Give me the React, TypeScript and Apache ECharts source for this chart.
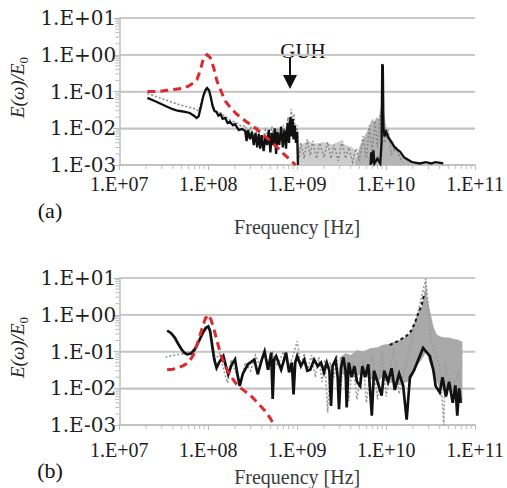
import React, { useEffect, useRef } from 'react';
import * as echarts from 'echarts';

// ---------- Panel (a) ----------
const redA: number[][] = [
  [2.07e7, 0.1], [2.8e7, 0.1], [3.5e7, 0.108], [4.3e7, 0.115], [5.1e7, 0.122], [6e7, 0.14], [6.8e7, 0.17],
  [7.5e7, 0.215], [8.2e7, 0.4], [8.9e7, 0.85], [9.7e7, 1.0], [1.05e8, 0.85], [1.15e8, 0.45], [1.25e8, 0.2],
  [1.4e8, 0.1], [1.55e8, 0.055], [1.8e8, 0.035], [2.1e8, 0.024], [2.6e8, 0.016], [3e8, 0.0125], [3.6e8, 0.009],
  [4.3e8, 0.0062], [5.1e8, 0.0043], [6e8, 0.003], [6.9e8, 0.0021], [8.3e8, 0.0014], [9.6e8, 0.001],
];

// '-' breaks the trace where the black curve sits below the visible range
const blackA: (number | string)[][] = [
  [2.07e7, 0.067], [2.5e7, 0.055], [3e7, 0.045], [3.5e7, 0.038], [4e7, 0.033], [4.5e7, 0.03], [5e7, 0.029],
  [5.5e7, 0.028], [6.2e7, 0.026], [6.9e7, 0.022], [7.4e7, 0.019], [7.8e7, 0.021], [8.3e7, 0.04], [8.8e7, 0.075],
  [9.3e7, 0.11], [9.7e7, 0.125], [1.02e8, 0.11], [1.07e8, 0.07], [1.12e8, 0.04], [1.17e8, 0.03], [1.25e8, 0.027],
  [1.3e8, 0.022], [1.38e8, 0.024], [1.45e8, 0.018], [1.55e8, 0.019], [1.65e8, 0.014], [1.75e8, 0.015], [1.9e8, 0.012],
  [2e8, 0.013], [2.2e8, 0.009], [2.4e8, 0.0095], [2.6e8, 0.0085], [2.7e8, 0.0045], [2.8e8, 0.009], [2.95e8, 0.005],
  [3.1e8, 0.008], [3.25e8, 0.0035], [3.4e8, 0.0075], [3.55e8, 0.003], [3.7e8, 0.007], [3.85e8, 0.0028], [4e8, 0.0065],
  [4.2e8, 0.0024], [4.4e8, 0.006], [4.6e8, 0.0035], [4.8e8, 0.009], [5e8, 0.0022], [5.2e8, 0.0075], [5.4e8, 0.0035],
  [5.6e8, 0.01], [5.8e8, 0.002], [6e8, 0.008], [6.3e8, 0.0035], [6.6e8, 0.011], [6.9e8, 0.003], [7.2e8, 0.009],
  [7.5e8, 0.0028], [7.8e8, 0.014], [8.1e8, 0.004], [8.4e8, 0.02], [8.7e8, 0.006], [8.9e8, 0.018], [9.1e8, 0.005],
  [9.4e8, 0.012], [9.7e8, 0.004], [1e9, 0.008], [1.02e9, 0.001], [1.03e9, '-'],
  [6.7e9, 0.001], [6.8e9, 0.0022], [7e9, 0.0011], [7.2e9, 0.0025], [7.4e9, 0.0011], [8e9, 0.0015],
  [8.6e9, 0.0011], [8.9e9, 0.004], [9.05e9, 0.55], [9.2e9, 0.5], [9.35e9, 0.01], [9.6e9, 0.006], [1e10, 0.008],
  [1.07e10, 0.0054], [1.15e10, 0.0042], [1.25e10, 0.003], [1.44e10, 0.0023], [1.6e10, 0.0016], [1.95e10, 0.0012],
  [2.4e10, 0.0011], [2.8e10, 0.0012], [3.2e10, 0.0011], [3.6e10, 0.0012], [4.4e10, 0.0011],
];

const greyA: number[][] = [
  [2.07e7, 0.088], [2.5e7, 0.075], [3e7, 0.065], [4e7, 0.05], [5e7, 0.042], [6e7, 0.038], [7e7, 0.034],
  [7.8e7, 0.03], [8.5e7, 0.06], [9.5e7, 0.11], [1.02e8, 0.1], [1.1e8, 0.05], [1.2e8, 0.03], [1.4e8, 0.025],
  [1.6e8, 0.02], [1.8e8, 0.016], [2e8, 0.015], [2.4e8, 0.011], [2.6e8, 0.012], [2.8e8, 0.006], [3e8, 0.011],
  [3.3e8, 0.005], [3.6e8, 0.01], [4e8, 0.004], [4.4e8, 0.009], [4.8e8, 0.005], [5.2e8, 0.011], [5.6e8, 0.004],
  [6e8, 0.01], [6.5e8, 0.005], [7e8, 0.012], [7.5e8, 0.006], [7.9e8, 0.02], [8.3e8, 0.008], [8.6e8, 0.033],
  [8.9e8, 0.01], [9.2e8, 0.025], [9.6e8, 0.006], [1e9, 0.012], [1.05e9, 0.0015], [1.1e9, 0.004], [1.2e9, 0.0015],
  [1.3e9, 0.005], [1.4e9, 0.0018], [1.5e9, 0.0045], [1.65e9, 0.0015], [1.8e9, 0.004], [2e9, 0.0016],
  [2.2e9, 0.0042], [2.4e9, 0.0015], [2.6e9, 0.0035], [2.9e9, 0.0013], [3.2e9, 0.0045], [3.5e9, 0.0015],
  [3.8e9, 0.003], [4.2e9, 0.0012], [4.6e9, 0.0028], [5e9, 0.0013], [5.5e9, 0.006], [6e9, 0.0015], [6.5e9, 0.012],
  [7e9, 0.002], [7.5e9, 0.016], [8e9, 0.003], [8.5e9, 0.02], [9e9, 0.03], [9.6e9, 0.004], [1.05e10, 0.009],
  [1.15e10, 0.002], [1.3e10, 0.003], [1.5e10, 0.0012],
];

const bandLightAFreq = [1e9, 1.3e9, 1.6e9, 2e9, 2.5e9, 3e9, 3.5e9, 4e9, 4.6e9];
const bandLightALow = [0.001, 0.001, 0.001, 0.001, 0.001, 0.001, 0.001, 0.001, 0.001];
const bandLightAHigh = [0.003, 0.0045, 0.0038, 0.0042, 0.0036, 0.0045, 0.0035, 0.0032, 0.0025];

const bandAFreq = [4.5e9, 5e9, 5.6e9, 6.2e9, 6.6e9, 7e9, 7.4e9, 7.8e9, 8.3e9, 8.7e9, 9.07e9, 9.4e9, 9.8e9, 1.03e10, 1.1e10, 1.2e10, 1.3e10, 1.45e10, 1.7e10, 2e10];
const bandALow = [0.001, 0.001, 0.001, 0.001, 0.001, 0.001, 0.001, 0.001, 0.001, 0.001, 0.001, 0.001, 0.001, 0.001, 0.001, 0.001, 0.001, 0.001, 0.001, 0.001];
const bandAHigh = [0.0012, 0.003, 0.0055, 0.0085, 0.013, 0.018, 0.015, 0.02, 0.018, 0.035, 0.06, 0.03, 0.014, 0.009, 0.006, 0.0042, 0.0028, 0.002, 0.0014, 0.001];

// ---------- Panel (b) ----------
const redB: number[][] = [
  [3.45e7, 0.032], [4e7, 0.033], [4.6e7, 0.036], [5.3e7, 0.042], [6e7, 0.05], [6.8e7, 0.08], [7.8e7, 0.21],
  [8.6e7, 0.45], [9.3e7, 0.8], [1e8, 1.0], [1.07e8, 0.75], [1.15e8, 0.44], [1.25e8, 0.2], [1.4e8, 0.074],
  [1.6e8, 0.035], [1.8e8, 0.021], [2.05e8, 0.0135], [2.25e8, 0.0107], [2.6e8, 0.0082], [3.1e8, 0.0058],
  [3.6e8, 0.004], [4.3e8, 0.0025], [5e8, 0.0015], [5.5e8, 0.001],
];

const blackB: number[][] = [
  [3.45e7, 0.37], [3.8e7, 0.32], [4.2e7, 0.24], [4.6e7, 0.16], [5e7, 0.115], [5.4e7, 0.092], [5.8e7, 0.084],
  [6.4e7, 0.088], [7e7, 0.11], [7.6e7, 0.16], [8.2e7, 0.24], [8.8e7, 0.34], [9.4e7, 0.44], [1e8, 0.48],
  [1.05e8, 0.36], [1.1e8, 0.16], [1.17e8, 0.06], [1.24e8, 0.036], [1.32e8, 0.05], [1.48e8, 0.075], [1.58e8, 0.04],
  [1.68e8, 0.024], [1.84e8, 0.045], [2e8, 0.061], [2.12e8, 0.025], [2.26e8, 0.0115], [2.45e8, 0.025], [2.8e8, 0.045],
  [3.3e8, 0.06], [3.6e8, 0.024], [4e8, 0.06], [4.3e8, 0.1], [4.7e8, 0.032], [5.1e8, 0.093], [5.3e8, 0.0051],
  [5.5e8, 0.06], [5.8e8, 0.075], [6.6e8, 0.032], [7.5e8, 0.093], [8.1e8, 0.027], [8.7e8, 0.05], [9.1e8, 0.0068],
  [9.5e8, 0.05], [1e9, 0.075], [1.1e9, 0.04], [1.2e9, 0.06], [1.3e9, 0.03], [1.4e9, 0.032], [1.55e9, 0.06],
  [1.7e9, 0.04], [1.85e9, 0.05], [2e9, 0.027], [2.15e9, 0.05], [2.3e9, 0.03], [2.4e9, 0.0033], [2.5e9, 0.04],
  [2.7e9, 0.06], [2.85e9, 0.02], [2.95e9, 0.0027], [3.1e9, 0.035], [3.3e9, 0.07], [3.5e9, 0.03], [3.6e9, 0.003],
  [3.8e9, 0.05], [4.1e9, 0.02], [4.4e9, 0.04], [4.7e9, 0.015], [5.1e9, 0.0115], [5.4e9, 0.04], [5.8e9, 0.02],
  [6.3e9, 0.045], [6.9e9, 0.0018], [7.3e9, 0.03], [8e9, 0.015], [8.9e9, 0.0063], [9.5e9, 0.03], [1.05e10, 0.015],
  [1.15e10, 0.035], [1.25e10, 0.009], [1.4e10, 0.025], [1.55e10, 0.012], [1.7e10, 0.0014], [1.85e10, 0.02],
  [2.05e10, 0.03], [2.3e10, 0.06], [2.6e10, 0.125], [2.8e10, 0.1], [3.1e10, 0.075], [3.4e10, 0.03], [3.6e10, 0.0115],
  [4e10, 0.0077], [4.3e10, 0.02], [4.7e10, 0.006], [5.1e10, 0.015], [5.6e10, 0.004], [6e10, 0.012], [6.3e10, 0.0018],
  [6.6e10, 0.01], [6.9e10, 0.004],
];

const blackBEdge: number[][] = [
  [1.1e10, 0.15], [1.4e10, 0.2], [1.7e10, 0.27], [1.9e10, 0.36], [2.1e10, 0.6], [2.3e10, 1.1], [2.5e10, 1.8], [2.7e10, 4],
];

const greyB: number[][] = [
  [3.3e7, 0.07], [3.7e7, 0.075], [4.3e7, 0.08], [5e7, 0.085], [6e7, 0.09], [7e7, 0.12], [8e7, 0.2], [9e7, 0.35],
  [1e8, 0.45], [1.1e8, 0.2], [1.2e8, 0.06], [1.35e8, 0.09], [1.5e8, 0.03], [1.65e8, 0.014], [1.8e8, 0.06],
  [2e8, 0.03], [2.3e8, 0.015], [2.6e8, 0.05], [3e8, 0.03], [3.4e8, 0.08], [3.8e8, 0.04], [4.3e8, 0.11], [4.8e8, 0.03],
  [5.3e8, 0.09], [6e8, 0.04], [7e8, 0.1], [8e8, 0.035], [9e8, 0.08], [1e9, 0.19], [1.1e9, 0.04], [1.2e9, 0.09],
  [1.3e9, 0.03], [1.45e9, 0.08], [1.6e9, 0.02], [1.75e9, 0.07], [1.9e9, 0.015], [2.05e9, 0.06], [2.2e9, 0.0022],
  [2.35e9, 0.05], [2.6e9, 0.02], [2.8e9, 0.08], [3e9, 0.004], [3.3e9, 0.06], [3.8e9, 0.0045], [4.2e9, 0.05],
  [4.7e9, 0.005], [5.5e9, 0.06], [6e9, 0.004], [7e9, 0.08], [8e9, 0.005], [9e9, 0.1], [1e10, 0.006], [1.2e10, 0.12],
  [1.4e10, 0.007], [2e10, 0.3], [2.79e10, 9.5], [3.2e10, 0.2], [4e10, 0.04], [4.45e10, 0.001], [4.6e10, 0.05],
  [5.5e10, 0.008], [6.5e10, 0.03], [7.1e10, 0.004],
];

const bandBFreq = [3e9, 3.5e9, 4e9, 4.7e9, 5.5e9, 6.5e9, 8e9, 9e9, 1.05e10, 1.2e10, 1.4e10, 1.6e10, 1.86e10, 2.05e10, 2.2e10, 2.5e10, 2.7e10, 2.79e10, 2.9e10, 3.05e10, 3.4e10, 3.7e10, 4e10, 4.5e10, 5.1e10, 5.8e10, 6.5e10, 6.9e10, 7.2e10];
const bandBLow = [0.03, 0.02, 0.03, 0.022, 0.025, 0.018, 0.015, 0.02, 0.013, 0.015, 0.012, 0.014, 0.016, 0.025, 0.04, 0.06, 0.08, 0.1, 0.08, 0.05, 0.03, 0.015, 0.01, 0.008, 0.01, 0.007, 0.006, 0.005, 0.005];
const bandBHigh = [0.07, 0.09, 0.08, 0.11, 0.1, 0.12, 0.13, 0.15, 0.16, 0.18, 0.2, 0.24, 0.32, 0.55, 0.9, 1.7, 4, 8.8, 3, 1.6, 0.48, 0.29, 0.26, 0.24, 0.24, 0.22, 0.21, 0.19, 0.19];

// ---------- Axes ----------
const xMin = 1e7;
const xMax = 1e11;
const yMin = 1e-3;
const yMax = 10;
const minorMantissas = [2, 3, 4, 5, 6, 7, 8, 9];
const xDecades = [1e7, 1e8, 1e9, 1e10];
const yDecades = [1e-3, 1e-2, 1e-1, 1];
const yGridValues = [1e-2, 1e-1, 1, 10];

const fmtExp = (v: number) => {
  const e = Math.round(Math.log10(v));
  return '1.E' + (e < 0 ? '-' : '+') + String(Math.abs(e)).padStart(2, '0');
};

const GRID = '#c4c4c4';
const AXIS = '#bdbdbd';
const RED = '#dd2a2c';
const BLACK = '#111111';
const GREY = '#9a9a9a';

export default function App() {
  const ref = useRef<HTMLDivElement>(null);
  useEffect(() => {
    document.body.style.margin = '0';
    const chart = echarts.init(ref.current as HTMLDivElement, null, { renderer: 'svg' });

    const zip = (f: number[], lo: number[], hi: number[]) => f.map((v, i) => [v, lo[i], hi[i]]);
    const band = (name: string, rows: number[][], idx: number, color: string, z: number) => ({
      type: 'custom', name, xAxisIndex: idx, yAxisIndex: idx, silent: true, z, clip: true,
      data: rows, encode: { x: 0, y: [1, 2] },
      renderItem: (params: any, api: any) => {
        if (params.dataIndex !== 0) return null;
        const up = rows.map((r) => api.coord([r[0], r[2]]));
        const lo = rows.slice().reverse().map((r) => api.coord([r[0], r[1]]));
        return { type: 'polygon', shape: { points: up.concat(lo) }, style: { fill: color } };
      },
    });
    const line = (name: string, data: any[], idx: number, color: string, width: number, type: any, z: number) => ({
      type: 'line', name, data, xAxisIndex: idx, yAxisIndex: idx, showSymbol: false, symbol: 'none', z,
      connectNulls: false,
      lineStyle: { color, width, type, cap: 'butt', join: 'miter' }, silent: true,
    });
    const gridLineSeries = (idx: number) =>
      yGridValues.map((v) => line('grid ' + v, [[xMin, v], [xMax, v]], idx, GRID, 1.5, 'solid', 0));
    const minorXData = xDecades.flatMap((d) => minorMantissas.map((m) => [d * m, yMin]));
    const minorYData = yDecades.flatMap((d) => minorMantissas.map((m) => [xMin, d * m]));
    const minorX = (idx: number) => ({
      type: 'custom', xAxisIndex: idx, yAxisIndex: idx, silent: true, clip: false, z: 0, data: minorXData,
      renderItem: (p: any, api: any) => {
        const c = api.coord([api.value(0), api.value(1)]);
        return { type: 'line', shape: { x1: c[0], y1: c[1], x2: c[0], y2: c[1] + 4 }, style: { stroke: AXIS, lineWidth: 1 } };
      },
    });
    const minorY = (idx: number) => ({
      type: 'custom', xAxisIndex: idx, yAxisIndex: idx, silent: true, clip: false, z: 0, data: minorYData,
      renderItem: (p: any, api: any) => {
        const c = api.coord([api.value(0), api.value(1)]);
        return { type: 'line', shape: { x1: c[0] - 4, y1: c[1], x2: c[0], y2: c[1] }, style: { stroke: AXIS, lineWidth: 1 } };
      },
    });

    const xAxis = (idx: number, margin: number, gap: number) => ({
      type: 'log', logBase: 10, gridIndex: idx, min: xMin, max: xMax,
      name: 'Frequency [Hz]', nameLocation: 'middle', nameGap: gap,
      nameTextStyle: { fontFamily: 'Liberation Serif', fontSize: 20, color: '#3a3a3a' },
      axisLine: { show: true, lineStyle: { color: AXIS, width: 1.5 } },
      axisTick: { show: true, length: 5, lineStyle: { color: AXIS } },
      axisLabel: { formatter: fmtExp, fontFamily: 'Liberation Serif', fontSize: 20, color: '#1e1e1e', margin },
      splitLine: { show: false },
    });
    const yAxis = (idx: number) => ({
      type: 'log', logBase: 10, gridIndex: idx, min: yMin, max: yMax,
      name: '{i|E(ω)/E}{s|0}', nameLocation: 'middle', nameGap: 88, nameRotate: 90,
      nameTextStyle: {
        padding: [0, 0, 0, 8],
        rich: {
          i: { fontFamily: 'Liberation Serif', fontStyle: 'italic', fontSize: 19, color: '#222', lineHeight: 24, verticalAlign: 'middle' },
          s: { fontFamily: 'Liberation Serif', fontSize: 13, color: '#222', lineHeight: 12, verticalAlign: 'bottom' },
        },
      },
      axisLine: { show: true, lineStyle: { color: AXIS, width: 1.5 } },
      axisTick: { show: true, length: 6, lineStyle: { color: AXIS } },
      axisLabel: { formatter: fmtExp, fontFamily: 'DejaVu Serif', fontSize: 20, color: '#1e1e1e', margin: 3 },
      splitLine: { show: true, lineStyle: { color: GRID, width: 1.5 } },
    });

    chart.setOption({
      animation: false,
      backgroundColor: '#ffffff',
      grid: [
        { left: 117, top: 18, width: 358, height: 147 },
        { left: 117, top: 278, width: 359, height: 148 },
      ],
      xAxis: [xAxis(0, 9, 52), xAxis(1, 15, 42)],
      yAxis: [yAxis(0), yAxis(1)],
      series: [
        ...gridLineSeries(0), ...gridLineSeries(1),
        minorX(0), minorY(0), minorX(1), minorY(1),
        band('band light a', zip(bandLightAFreq, bandLightALow, bandLightAHigh), 0, '#cdcdcd', 1),
        band('band a', zip(bandAFreq, bandALow, bandAHigh), 0, '#b4b4b4', 2),
        line('grey a', greyA, 0, '#8a8a8a', 1.6, [2, 2], 3),
        line('black a', blackA, 0, BLACK, 2.3, 'solid', 4),
        line('red a', redA, 0, RED, 3, [8, 5], 5),
        band('band b', zip(bandBFreq, bandBLow, bandBHigh), 1, '#a9a9a9', 1),
        line('grey b', greyB, 1, GREY, 1.6, [2, 2], 2),
        line('black b', blackB, 1, BLACK, 2.7, 'solid', 4),
        line('black b edge', blackBEdge, 1, BLACK, 2, [3, 3], 4),
        line('red b', redB, 1, RED, 3, [8, 5], 5),
      ],
      graphic: [
        { type: 'text', x: 303, y: 51, style: { text: 'GUH', font: '21px "Liberation Serif"', fill: '#111', textAlign: 'center', textVerticalAlign: 'middle' } },
        { type: 'line', shape: { x1: 290, y1: 58, x2: 290, y2: 78 }, style: { stroke: '#111', lineWidth: 2 } },
        { type: 'polygon', shape: { points: [[283, 75], [297, 75], [290, 89]] }, style: { fill: '#111' } },
        { type: 'text', x: 50, y: 210, style: { text: '(a)', font: '22px "Liberation Serif"', fill: '#111', textAlign: 'center', textVerticalAlign: 'middle' } },
        { type: 'text', x: 50, y: 470, style: { text: '(b)', font: '22px "Liberation Serif"', fill: '#111', textAlign: 'center', textVerticalAlign: 'middle' } },
      ],
    });
    return () => chart.dispose();
  }, []);
  return <div ref={ref} style={{ position: 'fixed', left: 0, top: 0, width: 507, height: 488, background: '#fff' }} />;
}
